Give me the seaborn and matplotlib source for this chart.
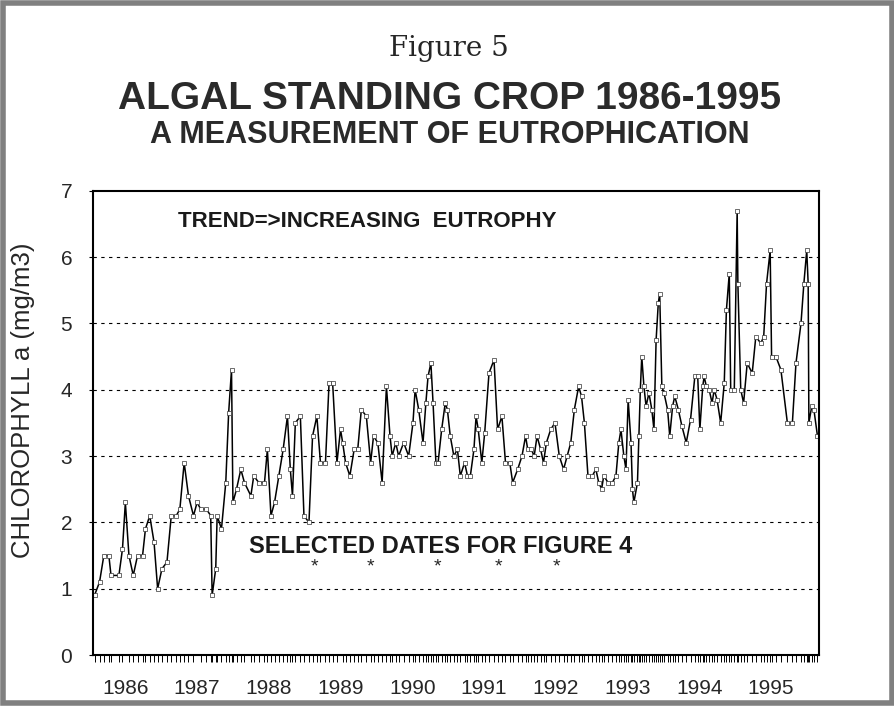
import seaborn as sns
import matplotlib.pyplot as plt
from matplotlib.patches import Rectangle
from matplotlib.ticker import FixedLocator

# Datas das amostras (anos decimais) e clorofila a (mg/m3)
years = [
    1986.07, 1986.14, 1986.20, 1986.27, 1986.30, 1986.41, 1986.46, 1986.50, 1986.55, 1986.61,
    1986.67, 1986.74, 1986.78, 1986.84, 1986.90, 1986.95, 1987.01, 1987.08, 1987.14, 1987.21,
    1987.26, 1987.32, 1987.38, 1987.45, 1987.50, 1987.55, 1987.63, 1987.69, 1987.71, 1987.76,
    1987.78, 1987.84, 1987.90, 1987.94, 1987.98, 1988.00, 1988.05, 1988.11, 1988.16, 1988.25,
    1988.29, 1988.36, 1988.44, 1988.48, 1988.53, 1988.58, 1988.64, 1988.70, 1988.76, 1988.80,
    1988.83, 1988.87, 1988.94, 1988.99, 1989.06, 1989.11, 1989.17, 1989.22, 1989.29, 1989.34,
    1989.39, 1989.45, 1989.50, 1989.53, 1989.57, 1989.63, 1989.69, 1989.74, 1989.79, 1989.86,
    1989.92, 1989.96, 1990.02, 1990.08, 1990.14, 1990.19, 1990.22, 1990.27, 1990.31, 1990.38,
    1990.45, 1990.51, 1990.54, 1990.59, 1990.65, 1990.69, 1990.72, 1990.76, 1990.79, 1990.83,
    1990.86, 1990.91, 1990.96, 1990.99, 1991.03, 1991.08, 1991.13, 1991.17, 1991.23, 1991.27,
    1991.31, 1991.36, 1991.39, 1991.42, 1991.47, 1991.51, 1991.57, 1991.64, 1991.69, 1991.75,
    1991.80, 1991.86, 1991.90, 1991.97, 1992.03, 1992.08, 1992.11, 1992.16, 1992.20, 1992.24,
    1992.29, 1992.33, 1992.37, 1992.43, 1992.49, 1992.55, 1992.61, 1992.66, 1992.71, 1992.76,
    1992.82, 1992.86, 1992.90, 1992.95, 1993.01, 1993.06, 1993.10, 1993.14, 1993.17, 1993.23,
    1993.29, 1993.34, 1993.38, 1993.41, 1993.45, 1993.48, 1993.51, 1993.55, 1993.57, 1993.59,
    1993.64, 1993.66, 1993.68, 1993.70, 1993.73, 1993.76, 1993.80, 1993.84, 1993.87, 1993.90,
    1993.93, 1993.95, 1993.98, 1994.01, 1994.06, 1994.09, 1994.13, 1994.16, 1994.21, 1994.26,
    1994.32, 1994.38, 1994.44, 1994.48, 1994.51, 1994.55, 1994.57, 1994.60, 1994.64, 1994.68,
    1994.71, 1994.75, 1994.80, 1994.85, 1994.88, 1994.92, 1994.94, 1994.99, 1995.03, 1995.04,
    1995.08, 1995.12, 1995.17, 1995.24, 1995.29, 1995.36, 1995.40, 1995.44, 1995.49, 1995.51,
    1995.57, 1995.64, 1995.73, 1995.80, 1995.85, 1995.92, 1995.96, 1996.00, 1996.02, 1996.03,
    1996.07, 1996.10, 1996.15,
]
chlorophyll = [
    0.9, 1.1, 1.5, 1.5, 1.2, 1.2, 1.6, 2.3, 1.5, 1.2,
    1.5, 1.5, 1.9, 2.1, 1.7, 1.0, 1.3, 1.4, 2.1, 2.1,
    2.2, 2.9, 2.4, 2.1, 2.3, 2.2, 2.2, 2.1, 0.9, 1.3,
    2.1, 1.9, 2.6, 3.65, 4.3, 2.3, 2.5, 2.8, 2.6, 2.4,
    2.7, 2.6, 2.6, 3.1, 2.1, 2.3, 2.7, 3.1, 3.6, 2.8,
    2.4, 3.5, 3.6, 2.1, 2.0, 3.3, 3.6, 2.9, 2.9, 4.1,
    4.1, 2.9, 3.4, 3.2, 2.9, 2.7, 3.1, 3.1, 3.7, 3.6,
    2.9, 3.3, 3.2, 2.6, 4.05, 3.3, 3.0, 3.2, 3.0, 3.2,
    3.0, 3.5, 4.0, 3.7, 3.2, 3.8, 4.2, 4.4, 3.8, 2.9,
    2.9, 3.4, 3.8, 3.7, 3.3, 3.0, 3.1, 2.7, 2.9, 2.7,
    2.7, 3.1, 3.6, 3.4, 2.9, 3.35, 4.25, 4.45, 3.4, 3.6,
    2.9, 2.9, 2.6, 2.8, 3.0, 3.3, 3.1, 3.1, 3.0, 3.3,
    3.1, 2.9, 3.2, 3.4, 3.5, 3.0, 2.8, 3.0, 3.2, 3.7,
    4.05, 3.9, 3.5, 2.7, 2.7, 2.8, 2.6, 2.5, 2.7, 2.6,
    2.6, 2.7, 3.2, 3.4, 3.0, 2.8, 3.85, 3.2, 2.5, 2.3,
    2.6, 3.3, 4.0, 4.5, 4.05, 3.75, 3.95, 3.7, 3.4, 4.75,
    5.3, 5.45, 4.05, 3.95, 3.7, 3.3, 3.75, 3.9, 3.7, 3.45,
    3.2, 3.55, 4.2, 4.2, 3.4, 4.05, 4.2, 4.05, 4.0, 3.8,
    4.0, 3.85, 3.5, 4.1, 5.2, 5.75, 4.0, 4.0, 6.7, 5.6,
    4.0, 3.8, 4.4, 4.25, 4.8, 4.7, 4.8, 5.6, 6.1, 4.5,
    4.5, 4.3, 3.5, 3.5, 4.4, 5.0, 5.6, 6.1, 5.6, 3.5,
    3.75, 3.7, 3.3,
]
year_labels = ["1986", "1987", "1988", "1989", "1990", "1991", "1992", "1993", "1994", "1995"]
y_ticks = [0, 1, 2, 3, 4, 5, 6, 7]
selected_dates = [1989.14, 1989.92, 1990.85, 1991.70, 1992.51]

sns.set_style("white")
plt.rcParams['font.family'] = ['Liberation Sans', 'DejaVu Sans']

fig = plt.figure(figsize=(8.95, 7.21), dpi=100)
ax = fig.add_axes([0.104, 0.0915, 0.811, 0.644])

sns.lineplot(x=years, y=chlorophyll, ax=ax, color="black", linewidth=1.1,
             estimator=None, sort=False, marker="s", markersize=2.3,
             markerfacecolor="white", markeredgecolor="#333333", markeredgewidth=0.5)

ax.set_xlim(1986.05, 1996.17)
ax.set_ylim(0, 7)
ax.set_yticks(y_ticks)
ax.set_yticklabels([str(v) for v in y_ticks], fontsize=15)
ax.set_xticks([int(y) + 0.5 for y in year_labels])
ax.set_xticklabels(year_labels, fontsize=15)
ax.tick_params(axis="x", which="major", length=0, pad=17)
ax.xaxis.set_minor_locator(FixedLocator(years))
ax.tick_params(axis="x", which="minor", bottom=True, direction="out", length=5, width=0.7, color="black")
ax.tick_params(axis="y", which="major", left=True, direction="out", length=3, width=0.8, color="black", pad=12)

for v in y_ticks[1:-1]:
    ax.axhline(v, color="black", linestyle=(0, (3, 4)), linewidth=0.8, zorder=0)

for side in ["left", "right", "top", "bottom"]:
    ax.spines[side].set_visible(True)
    ax.spines[side].set_color("black")
    ax.spines[side].set_linewidth(1.5)

ax.set_ylabel("CHLOROPHYLL a (mg/m3)", fontsize=18.5)
ax.yaxis.set_label_coords(-0.08, 0.548)
ax.set_xlabel("")

ax.text(1987.23, 6.53, "TREND=>INCREASING  EUTROPHY", fontsize=16, fontweight="bold",
        color="#1a1a1a", va="center", ha="left")
ax.text(1988.22, 1.63, "SELECTED DATES FOR FIGURE 4", fontsize=17, fontweight="bold",
        color="#1a1a1a", va="center", ha="left")
for d in selected_dates:
    ax.text(d, 1.33, "*", fontsize=14, ha="center", va="center")

fig.text(0.502, 0.933, "Figure 5", family="DejaVu Serif", fontsize=20, ha="center", va="center")
fig.text(0.502, 0.862, "ALGAL STANDING CROP 1986-1995", fontsize=28, fontweight="bold",
         color="#2a2a2a", ha="center", va="center")
fig.text(0.502, 0.813, "A MEASUREMENT OF EUTROPHICATION", fontsize=22, fontweight="bold",
         color="#2a2a2a", ha="center", va="center")

# moldura da página digitalizada
fig.patches.append(Rectangle((0.003, 0.025), 0.994, 0.971, transform=fig.transFigure,
                             fill=False, edgecolor="#808080", linewidth=4))

fig.savefig("out.png", dpi=100)
